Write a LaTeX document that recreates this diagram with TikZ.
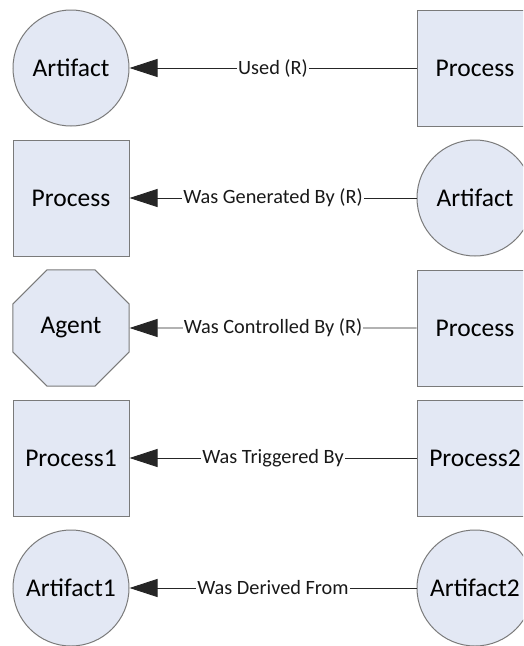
\documentclass[tikz,border=0pt]{standalone}
\usepackage{fontspec}
\setmainfont{Carlito}
\usetikzlibrary{arrows.meta,shapes.geometric}
\definecolor{shapefill}{HTML}{E3E8F4}
\definecolor{shapeline}{HTML}{7A7A7A}
\tikzset{
  every node/.style={font=\fontsize{25.5}{30}\selectfont},
  proc/.style={draw=shapeline, fill=shapefill, line width=1pt, rectangle,
    minimum width=116pt, minimum height=116pt, inner sep=0pt},
  art/.style={draw=shapeline, fill=shapefill, line width=1pt, circle,
    minimum size=116pt, inner sep=0pt},
  agent/.style={draw=shapeline, fill=shapefill, line width=1pt,
    regular polygon, regular polygon sides=8,
    minimum size=125.6pt, inner sep=0pt},
  rel/.style={-{Triangle[length=28pt,width=18pt]}, line width=0.9pt, draw=black!85},
  lbl/.style={fill=white, inner xsep=1pt, inner ysep=2pt,
    font=\fontsize{20.3}{24}\selectfont, text=black!90}
}
\begin{document}
\begin{tikzpicture}[x=1pt,y=-1pt]
  \useasboundingbox (0,0) rectangle (523,646);
  \clip (0,0) rectangle (523,646);

  % row 1
  \node[art]  (a1) at (71,68)  {Artifact};
  \node[proc] (p1) at (475,68) {Process};
  \draw[rel] (p1) -- node[lbl] {Used (R)} (a1);

  % row 2
  \node[proc] (p2) at (71,198)  {Process};
  \node[art]  (a2) at (475,198) {Artifact};
  \draw[rel] (a2) -- node[lbl] {Was Generated By (R)} (p2);

  % row 3
  \node[agent] (g3) at (71,328)  {Agent};
  \node[proc]  (p3) at (475,328) {Process};
  \draw[rel] (p3) -- node[lbl] {Was Controlled By (R)} (g3);

  % row 4
  \node[proc] (p4) at (71,458)  {Process1};
  \node[proc] (q4) at (475,458) {Process2};
  \draw[rel] (q4) -- node[lbl] {Was Triggered By} (p4);

  % row 5
  \node[art] (a5) at (71,588)  {Artifact1};
  \node[art] (b5) at (475,588) {Artifact2};
  \draw[rel] (b5) -- node[lbl] {Was Derived From} (a5);
\end{tikzpicture}
\end{document}
